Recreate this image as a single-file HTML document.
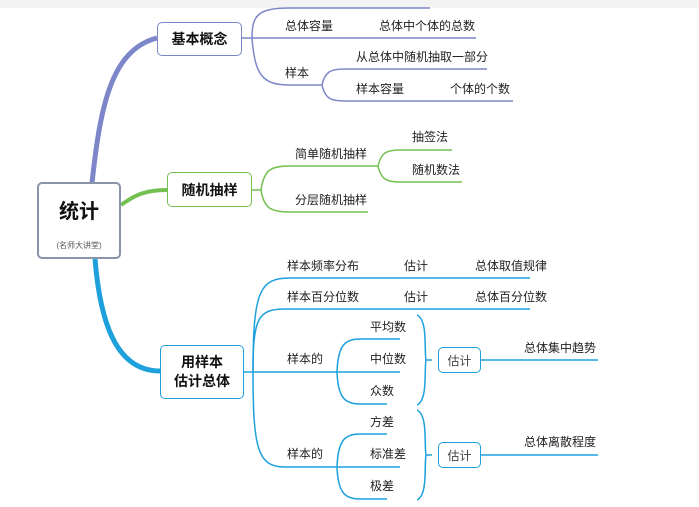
<!DOCTYPE html>
<html><head><meta charset="utf-8"><style>
body{margin:0;background:#fff;width:699px;height:507px;overflow:hidden;position:relative;font-family:"Liberation Sans","Noto Sans CJK SC",sans-serif;}
.t{position:absolute;font-size:12px;color:#222;white-space:nowrap;line-height:14px;}
.b{position:absolute;box-sizing:border-box;border-radius:5px;background:#fff;display:flex;align-items:center;justify-content:center;font-weight:bold;color:#111;text-align:center;}
</style></head><body>
<div style="position:absolute;left:0;top:0;width:699px;height:8px;background:#f3f3f3"></div>
<svg width="699" height="507" style="position:absolute;left:0;top:0" fill="none">
<!-- purple -->
<g stroke="#7d86c8" stroke-width="1.5">
<path d="M92 183 C100 110,110 50,157 38" stroke-width="5"/>
<path d="M242 38 H476"/>
<path d="M252 38 C252 15,258 8,290 8 H430"/>
<path d="M252 38 C255 75,262 85,290 85 H322"/>
<path d="M322 85 C325 72,330 69,345 69 H487"/>
<path d="M322 85 C325 98,330 101,345 101 H513"/>
</g>
<!-- green -->
<g stroke="#72c04f" stroke-width="1.5">
<path d="M121 205 C135 195,145 190,167 190" stroke-width="4"/>
<path d="M252 190 H261"/>
<path d="M261 190 C264 170,270 166,290 166 H378"/>
<path d="M261 190 C264 208,270 212,290 212 H368"/>
<path d="M378 166 C381 153,386 150,400 150 H452"/>
<path d="M378 166 C381 179,386 182,400 182 H462"/>
</g>
<!-- blue -->
<g stroke="#1ea0dc" stroke-width="1.5">
<path d="M95 259 C100 320,115 371,160 371" stroke-width="5"/>
<path d="M244 372 H337"/>
<path d="M253 372 C253 290,260 278,290 278 H530"/>
<path d="M253 372 C253 318,258 309,285 309 H530"/>
<path d="M253 372 C253 450,258 467,285 467 H337"/>
<path d="M337 372 C338 345,345 339,360 339 H400"/>
<path d="M337 372 H400"/>
<path d="M337 372 C338 398,345 404,360 404 H387"/>
<path d="M337 467 C338 440,345 434,360 434 H387"/>
<path d="M337 467 H400"/>
<path d="M337 467 C338 493,345 499,360 499 H387"/>
<path d="M417 315 C428 320,424 350,426 360 C424 370,428 400,417 405"/>
<path d="M426 360 H432"/>
<path d="M417 410 C428 415,424 445,426 455 C424 465,428 495,417 500"/>
<path d="M426 455 H432"/>
<path d="M481 360 H598"/>
<path d="M481 455 H598"/>
</g>
</svg>
<div class="b" style="left:37px;top:182px;width:84px;height:77px;border:2px solid #8a93a8;flex-direction:column;">
<div style="font-size:20px;margin-top:4px">统计</div>
<div style="font-size:8px;font-weight:normal;color:#555;margin-top:16px">(名师大讲堂)</div></div>
<div class="b" style="left:157px;top:22px;width:85px;height:34px;border:1.5px solid #7d86c8;font-size:14px">基本概念</div>
<div class="b" style="left:167px;top:172px;width:85px;height:35px;border:1.5px solid #72c04f;font-size:14px">随机抽样</div>
<div class="b" style="left:160px;top:345px;width:84px;height:54px;border:1.5px solid #1ea0dc;font-size:14px;line-height:19px">用样本<br>估计总体</div>
<div class="b" style="left:438px;top:347px;width:43px;height:26px;border:1.5px solid #1ea0dc;font-size:12px;font-weight:normal;color:#444">估计</div>
<div class="b" style="left:438px;top:442px;width:43px;height:26px;border:1.5px solid #1ea0dc;font-size:12px;font-weight:normal;color:#444">估计</div>
<div class="t" style="left:285px;top:19px">总体容量</div>
<div class="t" style="left:379px;top:19px">总体中个体的总数</div>
<div class="t" style="left:285px;top:66px">样本</div>
<div class="t" style="left:356px;top:50px">从总体中随机抽取一部分</div>
<div class="t" style="left:356px;top:82px">样本容量</div>
<div class="t" style="left:450px;top:82px">个体的个数</div>
<div class="t" style="left:295px;top:147px">简单随机抽样</div>
<div class="t" style="left:295px;top:193px">分层随机抽样</div>
<div class="t" style="left:412px;top:130px">抽签法</div>
<div class="t" style="left:412px;top:163px">随机数法</div>
<div class="t" style="left:287px;top:259px">样本频率分布</div>
<div class="t" style="left:404px;top:259px">估计</div>
<div class="t" style="left:475px;top:259px">总体取值规律</div>
<div class="t" style="left:287px;top:290px">样本百分位数</div>
<div class="t" style="left:404px;top:290px">估计</div>
<div class="t" style="left:475px;top:290px">总体百分位数</div>
<div class="t" style="left:287px;top:352px">样本的</div>
<div class="t" style="left:370px;top:320px">平均数</div>
<div class="t" style="left:370px;top:352px">中位数</div>
<div class="t" style="left:370px;top:384px">众数</div>
<div class="t" style="left:524px;top:341px">总体集中趋势</div>
<div class="t" style="left:287px;top:447px">样本的</div>
<div class="t" style="left:370px;top:415px">方差</div>
<div class="t" style="left:370px;top:447px">标准差</div>
<div class="t" style="left:370px;top:479px">极差</div>
<div class="t" style="left:524px;top:435px">总体离散程度</div>
</body></html>
